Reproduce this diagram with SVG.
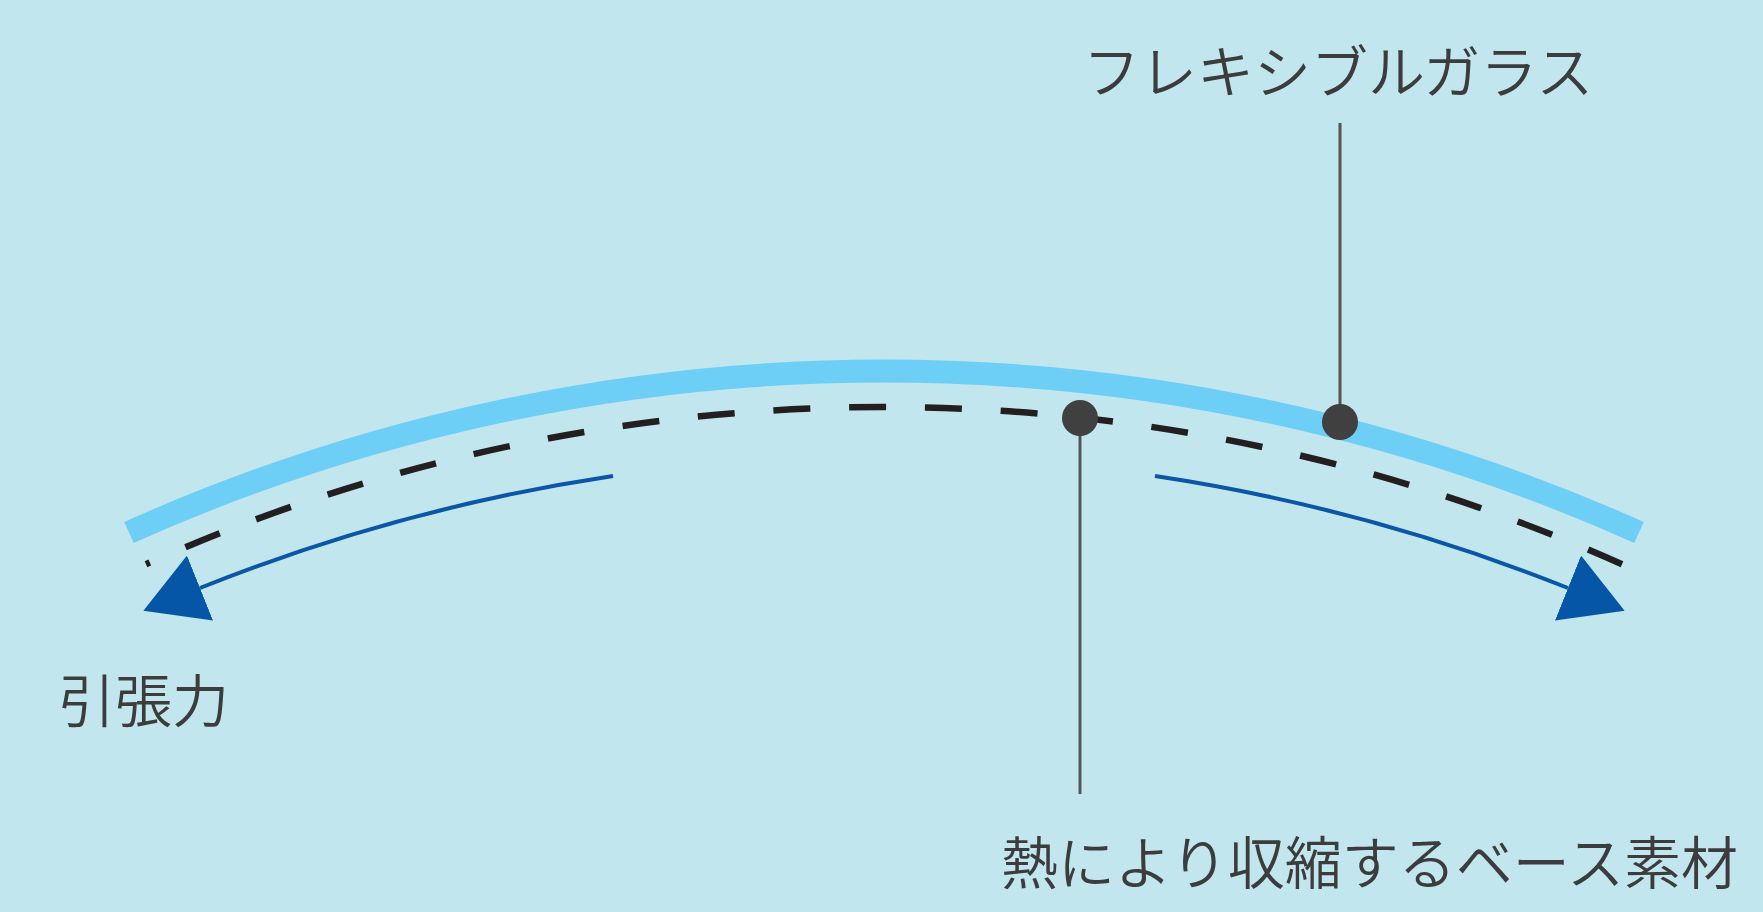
<svg xmlns="http://www.w3.org/2000/svg" width="1763" height="912" viewBox="0 0 1763 912">
  <defs>
    <style>
      .lbl { font-family: "Noto Sans CJK JP", "Noto Sans", sans-serif; font-size: 57px; fill: #3c3c3c; font-weight: 350; }
      .lead { stroke: #555555; stroke-width: 3; fill: none; }
      .dot { fill: #404040; }
      .pull { stroke: #0b57a7; stroke-width: 4; fill: none; }
    </style>
    <marker id="tri" markerUnits="userSpaceOnUse" markerWidth="62" markerHeight="70" viewBox="0 0 62 70" refX="0" refY="35" orient="auto">
      <path d="M0,0 L61,35 L0,70 Z" fill="#0656a8"/>
    </marker>
  </defs>
  <rect x="0" y="0" width="1763" height="912" fill="#c2e6ee"/>

  <g id="flexible-glass">
    <path d="M129,532.4 A1847,1847 0 0 1 1639,532.4" fill="none" stroke="#6dcff5" stroke-width="23"/>
  </g>

  <g id="base-material">
    <path d="M1622,564.2 A1811,1811 0 0 0 146,564.2" fill="none" stroke="#231f20" stroke-width="6.5" stroke-dasharray="37 38.8"/>
  </g>

  <g id="connectors">
    <path class="pull" d="M613,476 A1847,1847 0 0 0 200,588" marker-end="url(#tri)"/>
    <path class="pull" d="M1155,476 A1847,1847 0 0 1 1568,588" marker-end="url(#tri)"/>
    <line class="lead" x1="1340" y1="123" x2="1340" y2="422"/>
    <line class="lead" x1="1080" y1="418" x2="1080" y2="794"/>
  </g>

  <g id="glass-callout">
    <circle class="dot" cx="1340" cy="422" r="18"/>
    <text class="lbl" x="1083" y="93">フレキシブルガラス</text>
  </g>

  <g id="base-callout">
    <circle class="dot" cx="1080" cy="418" r="18"/>
    <text class="lbl" x="1001" y="884">熱により収縮するベース素材</text>
  </g>

  <g id="tension-label">
    <text class="lbl" x="58" y="722">引張力</text>
  </g>
</svg>
